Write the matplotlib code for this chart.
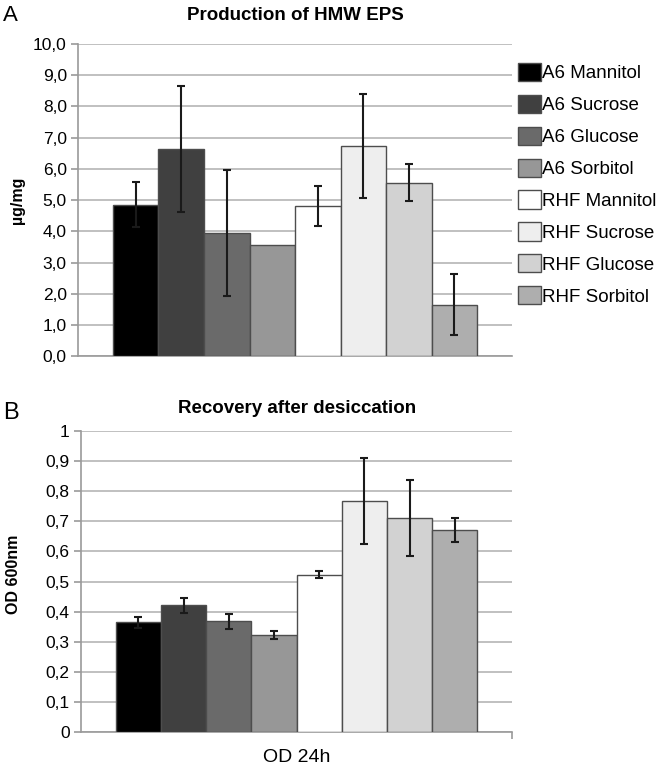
import matplotlib
matplotlib.use("Agg")
import matplotlib.pyplot as plt
import numpy as np

plt.rcParams["font.family"] = ["Liberation Sans", "DejaVu Sans"]

# data
labels = ["A6 Mannitol", "A6 Sucrose", "A6 Glucose", "A6 Sorbitol",
          "RHF Mannitol", "RHF Sucrose", "RHF Glucose", "RHF Sorbitol"]
colors = ["#000000", "#404040", "#6a6a6a", "#979797",
          "#ffffff", "#eeeeee", "#d2d2d2", "#aeaeae"]

eps_values = [4.85, 6.65, 3.95, 3.55, 4.82, 6.73, 5.56, 1.65]
eps_errors = [0.72, 2.02, 2.03, 0.0, 0.64, 1.66, 0.60, 0.98]

od_values = [0.365, 0.421, 0.368, 0.323, 0.522, 0.768, 0.709, 0.670]
od_errors = [0.018, 0.025, 0.025, 0.012, 0.012, 0.143, 0.126, 0.040]

eps_ticks = [0, 1, 2, 3, 4, 5, 6, 7, 8, 9, 10]
eps_ticklabels = ["0,0", "1,0", "2,0", "3,0", "4,0", "5,0", "6,0", "7,0", "8,0", "9,0", "10,0"]
od_ticks = [0, 0.1, 0.2, 0.3, 0.4, 0.5, 0.6, 0.7, 0.8, 0.9, 1.0]
od_ticklabels = ["0", "0,1", "0,2", "0,3", "0,4", "0,5", "0,6", "0,7", "0,8", "0,9", "1"]


def draw_panel(ax, values, errors, ticks, ticklabels, title, title_pad):
    n = len(values)
    x = np.arange(n) - (n - 1) / 2
    for i in range(n):
        ax.bar(x[i], values[i], 1.0, color=colors[i], edgecolor="#4d4d4d",
               linewidth=1.0, label=labels[i], zorder=3)
        if errors[i] > 0:
            ax.errorbar(x[i], values[i], yerr=errors[i], fmt="none",
                        ecolor="#1a1a1a", elinewidth=1.5, capsize=2.7,
                        capthick=1.5, zorder=4)
    ax.set_xlim(-4.77, 4.77)
    ax.set_ylim(ticks[0], ticks[-1])
    ax.set_yticks(ticks)
    ax.set_yticklabels(ticklabels, fontsize=12.5)
    ax.yaxis.grid(True, color="#b5b5b5", linewidth=1.2, zorder=0)
    ax.set_axisbelow(True)
    for s in ["top", "right"]:
        ax.spines[s].set_visible(False)
    for s in ["left", "bottom"]:
        ax.spines[s].set_color("#9a9a9a")
        ax.spines[s].set_linewidth(1.2)
    ax.tick_params(axis="y", length=5, color="#9a9a9a", width=1.2, pad=3)
    ax.set_title(title, fontsize=13.5, fontweight="bold", pad=title_pad)


fig = plt.figure(figsize=(6.66, 7.66), dpi=100)

ax1 = fig.add_axes([0.117, 0.535, 0.652, 0.4075])
draw_panel(ax1, eps_values, eps_errors, eps_ticks, eps_ticklabels,
           "Production of HMW EPS", 17.5)
ax1.set_ylabel("µg/mg", fontsize=11.5, fontweight="bold")
ax1.yaxis.set_label_coords(-0.122, 0.5)
ax1.set_xticks([])
ax1.legend(loc="upper left", bbox_to_anchor=(518 / 666, 1 - 63 / 766),
           bbox_transform=fig.transFigure, frameon=False,
           fontsize=13.5, handlelength=1.22, handleheight=1.12,
           handletextpad=0.08, labelspacing=0.66, borderpad=0,
           borderaxespad=0)

ax2 = fig.add_axes([0.1216, 0.044, 0.6474, 0.3937])
draw_panel(ax2, od_values, od_errors, od_ticks, od_ticklabels,
           "Recovery after desiccation", 12.7)
ax2.set_ylabel("OD 600nm", fontsize=11.5, fontweight="bold")
ax2.yaxis.set_label_coords(-0.139, 0.525)
ax2.set_xticks([4.77])
ax2.set_xticklabels([""])
ax2.tick_params(axis="x", length=5, color="#9a9a9a", width=1.2)
fig.text(0.4452, 1 - 762 / 766, "OD 24h", ha="center", va="baseline",
         fontsize=14)

fig.text(0.005, 1 - 21 / 766, "A", fontsize=16, va="baseline", ha="left")
fig.text(0.005, 1 - 419 / 766, "B", fontsize=17, va="baseline", ha="left")

fig.savefig("out.png", dpi=100)
